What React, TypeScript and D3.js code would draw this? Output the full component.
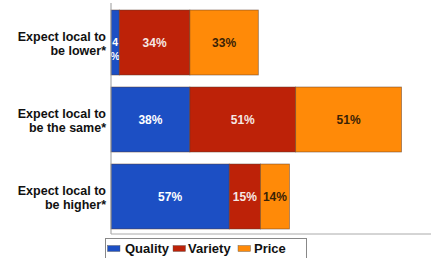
import React, { useRef, useEffect } from 'react';
import * as d3 from 'd3';

const categories = ['Expect local to|be lower*', 'Expect local to|be the same*', 'Expect local to|be higher*'];
const seriesNames = ['Quality', 'Variety', 'Price'];
const quality = [4, 38, 57];
const variety = [34, 51, 15];
const price = [33, 51, 14];

const colors = ['#1c4fc4', '#bd2208', '#ff8a08'];
const labelColors = ['#ffffff', '#f6e8e4', '#3a2206'];

const App = () => {
  const svgRef = useRef<SVGSVGElement>(null);

  useEffect(() => {
    const svg = d3.select(svgRef.current);
    const width = 431;
    const height = 258;
    svg.attr('width', width).attr('height', height);
    svg.selectAll('*').remove();

    const font = '"Liberation Sans", Arial, sans-serif';
    const left = 111;
    const axisBottom = 234;

    const x = d3.scaleLinear().domain([0, 100]).range([left, left + 207.5]);
    const y = d3.scaleBand().domain(categories).range([4, 235]).paddingInner(0.156).paddingOuter(0.078);

    const values = [quality, variety, price];

    categories.forEach((cat, ci) => {
      let acc = 0;
      values.forEach((vals, si) => {
        const v = vals[ci];
        const x0 = x(acc);
        const x1 = x(acc + v);
        acc += v;
        svg.append('rect')
          .attr('x', x0)
          .attr('y', y(cat))
          .attr('width', x1 - x0)
          .attr('height', y.bandwidth())
          .attr('fill', colors[si])
          .attr('stroke', '#5a3a2a')
          .attr('stroke-opacity', 0.6)
          .attr('stroke-width', 0.8);

        const cx = (x0 + x1) / 2;
        const cy = y(cat)! + y.bandwidth() / 2;
        const label = `${v}%`;
        const t = svg.append('text')
          .attr('x', cx)
          .attr('y', cy)
          .attr('text-anchor', 'middle')
          .attr('font-family', font)
          .attr('font-weight', 'bold')
          .attr('font-size', 12)
          .attr('fill', labelColors[si]);
        if (x1 - x0 < 20) {
          // too narrow, stack characters
          const parts = [String(v), '%'];
          t.attr('font-size', 10.5);
          parts.forEach((p, i) => {
            t.append('tspan')
              .attr('x', cx)
              .attr('y', cy + i * 14)
              .attr('dy', '0.35em')
              .text(p);
          });
        } else {
          t.attr('dy', '0.35em').text(label);
        }
      });

      const lines = cat.split('|');
      const cy = y(cat)! + y.bandwidth() / 2;
      const text = svg.append('text')
        .attr('text-anchor', 'end')
        .attr('font-family', font)
        .attr('font-weight', 'bold')
        .attr('font-size', 12.5)
        .attr('fill', '#111');
      lines.forEach((l, i) => {
        text.append('tspan')
          .attr('x', 106)
          .attr('y', cy + (i - 0.5) * 14 + 1.5)
          .attr('dy', '0.35em')
          .text(l);
      });
    });

    // axes
    svg.append('line')
      .attr('x1', left).attr('x2', left)
      .attr('y1', 3).attr('y2', axisBottom)
      .attr('stroke', '#999').attr('stroke-width', 1);
    svg.append('line')
      .attr('x1', left).attr('x2', width)
      .attr('y1', axisBottom).attr('y2', axisBottom)
      .attr('stroke', '#aaa').attr('stroke-width', 1);

    // legend
    svg.append('rect')
      .attr('x', 105.5)
      .attr('y', 238.5)
      .attr('width', 201)
      .attr('height', 24)
      .attr('fill', '#fff')
      .attr('stroke', '#888');
    const swatchX = [107.5, 173, 238];
    const textX = [125, 188, 254];
    seriesNames.forEach((name, i) => {
      svg.append('rect')
        .attr('x', swatchX[i])
        .attr('y', 245.5)
        .attr('width', 12.5)
        .attr('height', 6)
        .attr('fill', colors[i])
        .attr('stroke', '#555')
        .attr('stroke-width', 0.4);
      svg.append('text')
        .attr('x', textX[i])
        .attr('y', 248.5)
        .attr('dy', '0.35em')
        .attr('font-family', font)
        .attr('font-weight', 'bold')
        .attr('font-size', 13)
        .attr('fill', '#111')
        .text(name);
    });
  }, []);

  return (
    <div style={{ position: 'absolute', left: 0, top: 0 }}>
      <svg ref={svgRef}></svg>
    </div>
  );
};

export default App;
